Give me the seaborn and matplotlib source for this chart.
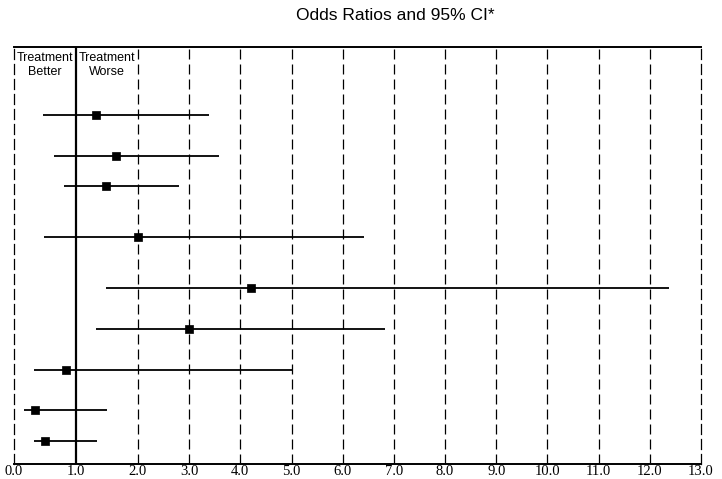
import numpy as np
import pandas as pd
import matplotlib
matplotlib.use("Agg")
import matplotlib.pyplot as plt
import matplotlib.transforms as mtransforms
import seaborn as sns
from matplotlib import font_manager

# Odds ratios with 95% confidence limits, one row per comparison (top to bottom)
row_pos = [0, 4, 7, 12, 17, 21, 25, 29, 32]
odds_ratio = [1.32, 1.65, 1.48, 2.00, 4.20, 3.00, 0.84, 0.34, 0.50]
ci_low = [0.47, 0.65, 0.81, 0.48, 1.48, 1.32, 0.32, 0.16, 0.32]
ci_high = [3.38, 3.58, 2.80, 6.41, 12.37, 6.83, 5.00, 1.50, 1.34]

x_ticks = [0, 1, 2, 3, 4, 5, 6, 7, 8, 9, 10, 11, 12, 13]
x_tick_labels = ["0.0", "1.0", "2.0", "3.0", "4.0", "5.0", "6.0",
                 "7.0", "8.0", "9.0", "10.0", "11.0", "12.0", "13.0"]
title_text = "Odds Ratios and 95% CI*"
better_text = "Treatment\nBetter"
worse_text = "Treatment\nWorse"

df = pd.DataFrame({"row": row_pos, "or": odds_ratio, "lo": ci_low, "hi": ci_high})

sns.set_style("white")
plt.rcParams["text.color"] = "black"
plt.rcParams["xtick.color"] = "black"
installed = {f.name for f in font_manager.fontManager.ttflist}
narrow = "Liberation Sans Narrow" if "Liberation Sans Narrow" in installed else "Liberation Sans"

fig = plt.figure(figsize=(7.22, 4.79), dpi=100)
ax = fig.add_axes([14 / 722, 1 - 464 / 479, (701 - 14) / 722, (464 - 47) / 479])

# The axis stretches the 0-2 range relative to 2-13
ratio = 62.0 / 51.2


def fwd(x):
    x = np.asarray(x, dtype=float)
    return np.where(x <= 2, x * ratio, 2 * ratio + (x - 2))


def inv(u):
    u = np.asarray(u, dtype=float)
    return np.where(u <= 2 * ratio, u / ratio, u - 2 * ratio + 2)


ax.set_xscale("function", functions=(fwd, inv))
ax.set_xlim(0, 13)
ax.set_ylim(34.25, -6.67)

# dashed reference lines at every unit from 2 upward
for xv in x_ticks[2:-1]:
    ax.axvline(xv, color="black", lw=0.9, ls=(0, (8, 4)), zorder=1)
# line of no effect
ax.axvline(1, color="black", lw=1.6, zorder=2)

ax.hlines(df["row"], df["lo"], df["hi"], color="black", lw=1.3, zorder=3)
sns.scatterplot(data=df, x="or", y="row", marker="s", s=28, color="black",
                edgecolor="black", linewidth=0.5, ax=ax, zorder=4, legend=False)

ax.set_xlabel("")
ax.set_ylabel("")
ax.set_yticks([])
ax.set_xticks(x_ticks)
ax.set_xticklabels(x_tick_labels, fontfamily="Liberation Serif", fontsize=10.5,
                   color="black")
ax.tick_params(axis="x", length=0, pad=1)

for side in ["top", "bottom"]:
    ax.spines[side].set_color("black")
    ax.spines[side].set_linewidth(1.4)
for side in ["left", "right"]:
    ax.spines[side].set_color("black")
    ax.spines[side].set_linewidth(0.9)
    ax.spines[side].set_linestyle((0, (8, 4)))

blend = mtransforms.blended_transform_factory(ax.transData, ax.transAxes)
ax.text(0.5, 0.957, better_text, transform=blend, ha="center", va="center",
        fontfamily=narrow, fontsize=9, linespacing=1.15, color="black")
ax.text(1.5, 0.957, worse_text, transform=blend, ha="center", va="center",
        fontfamily=narrow, fontsize=9, linespacing=1.15, color="black")

fig.text(395 / 722, 1 - 15 / 479, title_text, ha="center", va="center",
         fontfamily=narrow, fontsize=12.5, color="black")

fig.savefig("out.png", dpi=100)
